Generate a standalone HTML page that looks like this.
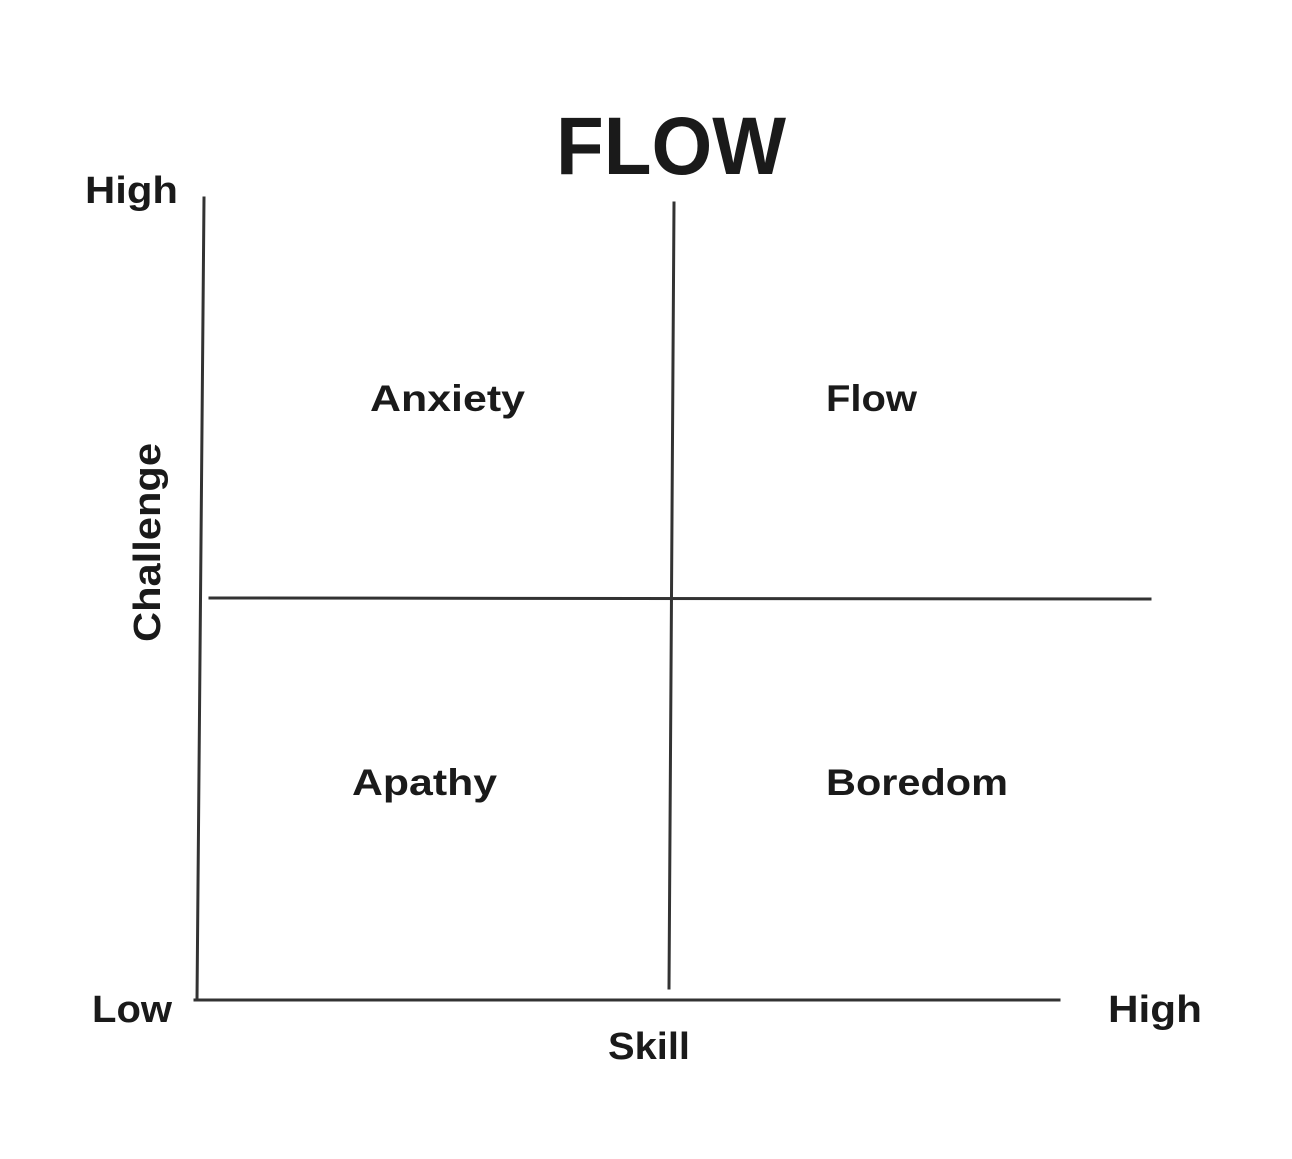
<!DOCTYPE html>
<html><head><meta charset="utf-8"><style>html,body{margin:0;padding:0;background:#fff}svg{display:block}</style></head>
<body>
<svg width="1292" height="1159" viewBox="0 0 1292 1159" xmlns="http://www.w3.org/2000/svg">
<rect width="1292" height="1159" fill="#fff"/>
<g stroke="#333" stroke-width="3" fill="none" stroke-linecap="square">
<line x1="204" y1="198" x2="197" y2="1000"/>
<line x1="195" y1="1000" x2="1059" y2="1000"/>
<line x1="674" y1="203" x2="669" y2="988"/>
<line x1="210" y1="598" x2="1150" y2="599"/>
</g>
<g font-family="'Liberation Sans', sans-serif" font-weight="bold" fill="#1a1a1a">
<text x="556" y="174" font-size="82" textLength="230" lengthAdjust="spacingAndGlyphs">FLOW</text>
<text x="85" y="203" font-size="38" textLength="93" lengthAdjust="spacingAndGlyphs">High</text>
<text x="370" y="411" font-size="37" textLength="155" lengthAdjust="spacingAndGlyphs">Anxiety</text>
<text x="826" y="411" font-size="37" textLength="91" lengthAdjust="spacingAndGlyphs">Flow</text>
<text x="352" y="795" font-size="37" textLength="145" lengthAdjust="spacingAndGlyphs">Apathy</text>
<text x="826" y="795" font-size="37" textLength="182" lengthAdjust="spacingAndGlyphs">Boredom</text>
<text x="92" y="1022" font-size="38" textLength="80" lengthAdjust="spacingAndGlyphs">Low</text>
<text x="1108" y="1022" font-size="38" textLength="94" lengthAdjust="spacingAndGlyphs">High</text>
<text x="608" y="1059" font-size="38" textLength="82" lengthAdjust="spacingAndGlyphs">Skill</text>
<text transform="translate(160,642) rotate(-90)" font-size="38" textLength="199" lengthAdjust="spacingAndGlyphs">Challenge</text>
</g>
</svg>
</body></html>
